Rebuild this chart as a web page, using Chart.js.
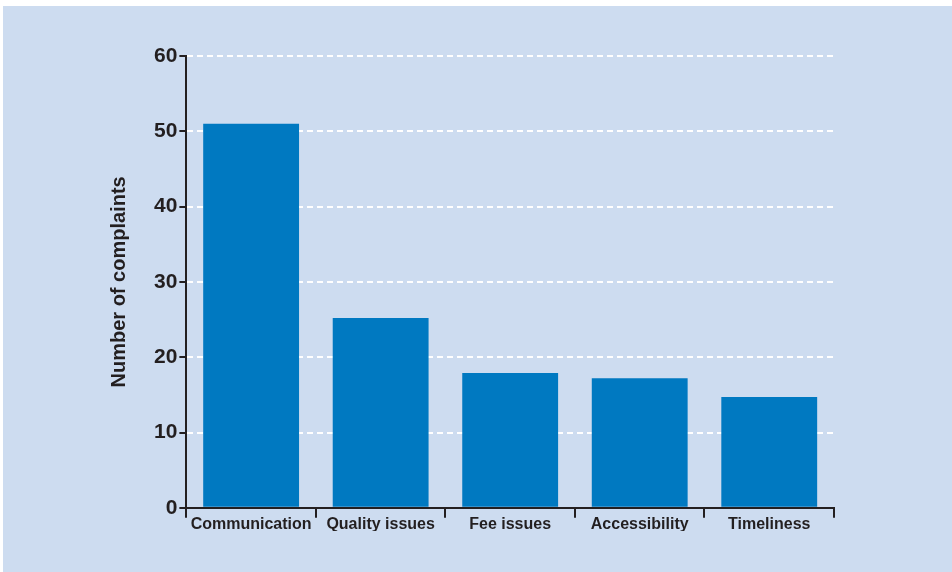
<!DOCTYPE html>
<html>
<head>
<meta charset="utf-8">
<script src="https://cdn.jsdelivr.net/npm/chart.js@4"></script>
<style>
  html, body { margin: 0; padding: 0; background: #ffffff; }
  #panel { position: absolute; left: 3px; top: 6px; width: 949px; height: 566px; background: #cddcf0; }
</style>
</head>
<body>
<div id="panel"><canvas id="barChart" width="949" height="566"></canvas></div>
<script>
// categories and number of complaints
var categories = ["Communication", "Quality issues", "Fee issues", "Accessibility", "Timeliness"];
var complaints = [51, 25.2, 17.9, 17.2, 14.7];
var yTicks = [0, 10, 20, 30, 40, 50, 60];

var ink = "#231f20";
var family = "'Liberation Sans', Arial, sans-serif";

var ctx = document.getElementById("barChart").getContext("2d");
var chart = new Chart(ctx, {
  type: "bar",
  data: {
    labels: categories,
    datasets: [{
      data: complaints,
      label: "Number of complaints",
      backgroundColor: "#0079c1",
      borderWidth: 0,
      barPercentage: 0.74,
      categoryPercentage: 1.0
    }]
  },
  options: {
    responsive: false,
    animation: false,
    layout: {
      padding: { top: 50, right: 118, bottom: 41, left: 104 }
    },
    plugins: {
      legend: { display: false },
      tooltip: { enabled: false }
    },
    scales: {
      x: {
        offset: true,
        grid: {
          offset: true,
          drawOnChartArea: false,
          color: ink,
          lineWidth: 2,
          tickLength: 10
        },
        border: { color: ink, width: 2 },
        ticks: {
          color: ink,
          padding: -3,
          maxRotation: 0,
          minRotation: 0,
          autoSkip: false,
          font: { family: family, size: 16, weight: "bold" }
        }
      },
      y: {
        min: yTicks[0],
        max: yTicks[yTicks.length - 1],
        afterBuildTicks: function(axis) {
          axis.ticks = yTicks.map(function(v) { return { value: v }; });
        },
        grid: {
          color: function(c) { return c.tick && c.tick.value === 0 ? "rgba(0,0,0,0)" : "#ffffff"; },
          tickColor: ink,
          lineWidth: 2,
          tickWidth: 2,
          tickLength: 7
        },
        border: { color: ink, width: 2, dash: [6, 4] },
        ticks: {
          color: ink,
          padding: 2,
          font: { family: family, size: 21, weight: "bold" }
        },
        title: {
          display: true,
          text: "Number of complaints",
          color: ink,
          padding: { top: 0, bottom: 21 },
          font: { family: family, size: 20, weight: "bold" }
        }
      }
    }
  }
});
</script>
</body>
</html>
